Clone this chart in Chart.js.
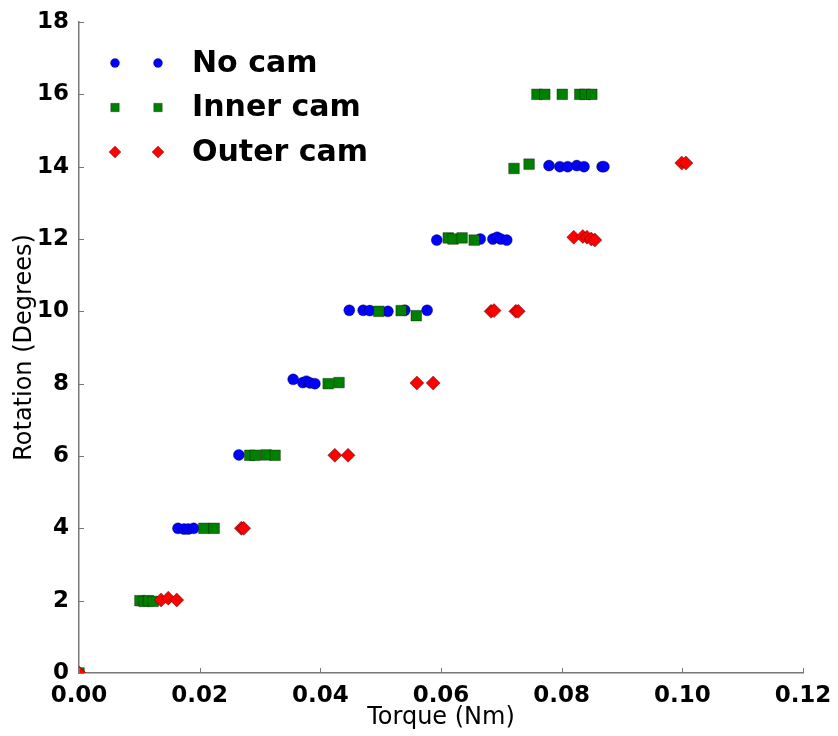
<!DOCTYPE html>
<html>
<head>
<meta charset="utf-8">
<script src="https://cdn.jsdelivr.net/npm/chart.js@4.4.1/dist/chart.umd.min.js"></script>
<style>
  html, body { margin: 0; padding: 0; background: #fff; }
  #wrap { width: 838px; height: 736px; }
</style>
</head>
<body>
<div id="wrap"><canvas id="torqueChart" width="838" height="736"></canvas></div>
<script>
// values
const noCamTorque = [0, 0.0164, 0.0174, 0.0181, 0.019, 0.0265, 0.0355, 0.0371, 0.0377, 0.0383, 0.0391,
  0.0448, 0.0471, 0.0482, 0.0512, 0.054, 0.0577, 0.0593, 0.0665, 0.0686, 0.0693, 0.0699, 0.0709,
  0.0779, 0.0797, 0.081, 0.0825, 0.0837, 0.0867, 0.087];
const noCamRotation = [0, 4.0, 3.98, 3.98, 4.0, 6.03, 8.12, 8.03, 8.07, 8.02, 8.0,
  10.03, 10.03, 10.02, 10.0, 10.03, 10.03, 11.97, 12.0, 12.0, 12.05, 12.0, 11.97,
  14.03, 14.0, 14.0, 14.03, 14.0, 14.0, 14.0];

const innerCamTorque = [0, 0.0101, 0.0108, 0.0115, 0.0123, 0.0207, 0.0224, 0.0283, 0.0292, 0.031, 0.0325,
  0.0413, 0.0431, 0.0497, 0.0534, 0.0559, 0.0612, 0.062, 0.0635, 0.0655, 0.0721, 0.0746,
  0.0759, 0.0772, 0.0801, 0.083, 0.0839, 0.085];
const innerCamRotation = [0, 2.0, 1.98, 2.0, 1.98, 4.0, 4.0, 6.02, 6.02, 6.03, 6.02,
  8.0, 8.03, 10.0, 10.02, 9.88, 12.03, 12.0, 12.03, 11.97, 13.95, 14.07,
  16.0, 16.0, 16.0, 16.0, 16.0, 16.0];

const outerCamTorque = [0, 0.0136, 0.0148, 0.0162, 0.0269, 0.0273, 0.0424, 0.0446, 0.056, 0.0587,
  0.0683, 0.0688, 0.0724, 0.0728, 0.082, 0.0835, 0.0842, 0.0849, 0.0855, 0.0999, 0.1006];
const outerCamRotation = [0, 2.02, 2.07, 2.02, 4.0, 4.0, 6.02, 6.02, 8.02, 8.02,
  10.0, 10.02, 10.0, 10.0, 12.05, 12.07, 12.05, 12.0, 11.97, 14.1, 14.1];

const seriesNames = ['No cam', 'Inner cam', 'Outer cam'];

function toPoints(xs, ys) {
  return xs.map((x, i) => ({ x: x, y: ys[i] }));
}

// legend drawn like matplotlib: two markers then the label
const camLegend = {
  id: 'camLegend',
  afterDatasetsDraw(chart) {
    const ctx = chart.ctx;
    const legendStyles = [
      { pointStyle: 'circle', radius: 4.5 },
      { pointStyle: 'rect', radius: 6 },
      { pointStyle: 'rectRot', radius: 6 }
    ];
    ctx.save();
    chart.data.datasets.forEach((ds, i) => {
      const y = 63 + i * 44.5;
      const opts = {
        pointStyle: legendStyles[i].pointStyle,
        radius: legendStyles[i].radius,
        rotation: 0,
        borderWidth: 0.6
      };
      ctx.fillStyle = ds.backgroundColor;
      ctx.strokeStyle = 'rgba(0,0,0,0.5)';
      ctx.lineWidth = 0.6;
      Chart.helpers.drawPoint(ctx, opts, 115, y);
      Chart.helpers.drawPoint(ctx, opts, 158, y);
      ctx.fillStyle = '#000';
      ctx.font = 'bold 30px "DejaVu Sans"';
      ctx.textAlign = 'left';
      ctx.textBaseline = 'middle';
      ctx.fillText(seriesNames[i], 192, y + 1);
    });
    ctx.restore();
  }
};

// small inward tick marks on the two spines
const innerTicks = {
  id: 'innerTicks',
  afterDraw(chart) {
    const ctx = chart.ctx;
    const area = chart.chartArea;
    const xs = chart.scales.x, ys = chart.scales.y;
    ctx.save();
    ctx.strokeStyle = '#777';
    ctx.lineWidth = 1;
    ctx.beginPath();
    xs.ticks.forEach(t => {
      const px = Math.round(xs.getPixelForValue(t.value)) + 0.5;
      ctx.moveTo(px, area.bottom);
      ctx.lineTo(px, area.bottom - 5);
    });
    ys.ticks.forEach(t => {
      const py = Math.round(ys.getPixelForValue(t.value)) + 0.5;
      ctx.moveTo(area.left, py);
      ctx.lineTo(area.left + 5, py);
    });
    ctx.stroke();
    ctx.restore();
  }
};

const markerBorder = 'rgba(0,0,0,0.6)';

new Chart(document.getElementById('torqueChart').getContext('2d'), {
  type: 'scatter',
  data: {
    datasets: [
      {
        label: seriesNames[0],
        data: toPoints(noCamTorque, noCamRotation),
        backgroundColor: '#0000ff',
        borderColor: markerBorder,
        borderWidth: 0.6,
        pointStyle: 'circle',
        pointRadius: 5.5,
        order: 3,
        clip: 0
      },
      {
        label: seriesNames[1],
        data: toPoints(innerCamTorque, innerCamRotation),
        backgroundColor: '#008000',
        borderColor: markerBorder,
        borderWidth: 0.6,
        pointStyle: 'rect',
        pointRadius: 7.5,
        order: 2,
        clip: 0
      },
      {
        label: seriesNames[2],
        data: toPoints(outerCamTorque, outerCamRotation),
        backgroundColor: '#ff0000',
        borderColor: markerBorder,
        borderWidth: 0.6,
        pointStyle: 'rectRot',
        pointRadius: 7,
        order: 1,
        clip: 0
      }
    ]
  },
  options: {
    responsive: false,
    animation: false,
    layout: {
      padding: { left: 0, top: 22, right: 35, bottom: 0 }
    },
    plugins: {
      legend: { display: false },
      tooltip: { enabled: false }
    },
    scales: {
      x: {
        type: 'linear',
        min: 0,
        max: 0.12,
        afterFit: s => { s.height = 63; },
        grid: { display: false },
        border: { display: true, color: '#777', width: 1.5 },
        ticks: {
          stepSize: 0.02,
          padding: 1,
          color: '#000',
          font: { family: 'DejaVu Sans', size: 23, weight: 'bold' },
          maxRotation: 0,
          callback: v => v.toFixed(2)
        },
        title: {
          display: true,
          text: 'Torque (Nm)',
          color: '#000',
          padding: { top: 0, bottom: 4 },
          font: { family: 'DejaVu Sans', size: 24 }
        }
      },
      y: {
        type: 'linear',
        min: 0,
        max: 18,
        afterFit: s => { s.width = 79; },
        grid: { display: false },
        border: { display: true, color: '#777', width: 1.5 },
        ticks: {
          stepSize: 2,
          padding: 2,
          color: '#000',
          font: { family: 'DejaVu Sans', size: 23, weight: 'bold' }
        },
        title: {
          display: true,
          text: 'Rotation (Degrees)',
          color: '#000',
          padding: { top: 10, bottom: 0 },
          font: { family: 'DejaVu Sans', size: 24 }
        }
      }
    }
  },
  plugins: [camLegend, innerTicks]
});
</script>
</body>
</html>
